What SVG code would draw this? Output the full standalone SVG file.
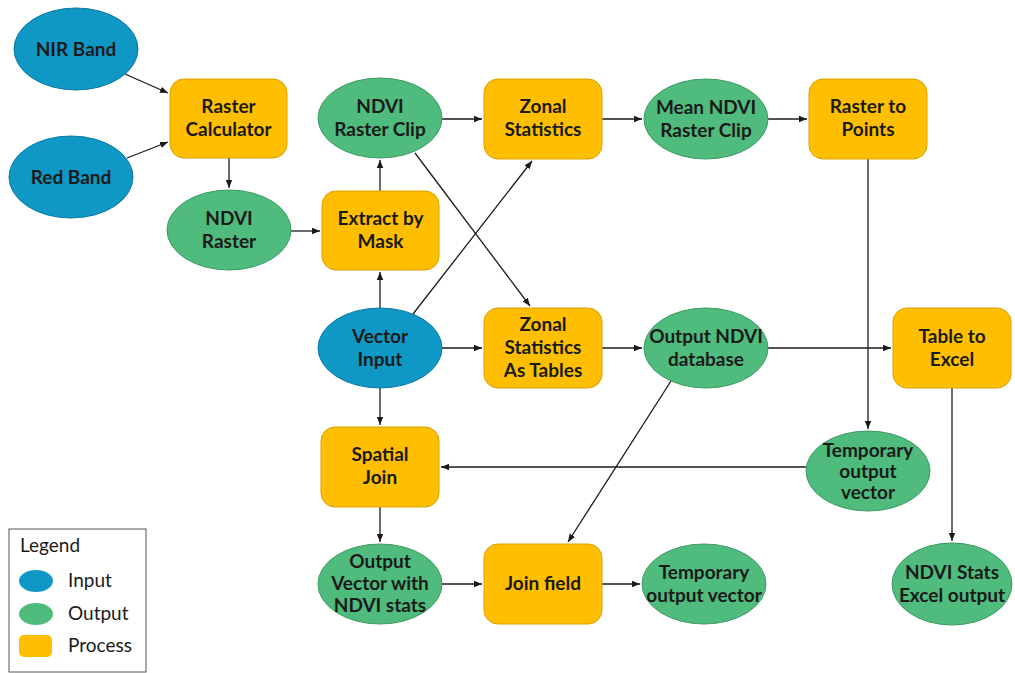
<svg xmlns="http://www.w3.org/2000/svg" width="1015" height="673" viewBox="0 0 1015 673">
<defs>
<marker id="ah" viewBox="0 0 10 10" refX="10" refY="5" markerWidth="8" markerHeight="8" markerUnits="userSpaceOnUse" orient="auto">
<path d="M0,1 L10,5 L0,9 Z" fill="#1a1a1a"/>
</marker>
<style>
.in{fill:#0f98c5;stroke:#0b7aa0;stroke-width:1}
.out{fill:#4fbb7c;stroke:#3c9a62;stroke-width:1}
.pr{fill:#ffbf00;stroke:#d9a000;stroke-width:1}
.t{font-family:Lato,"Open Sans","Liberation Sans",sans-serif;font-weight:bold;font-size:19px;fill:#1a1a1a;text-anchor:middle}
.lg{font-family:Lato,"Open Sans","Liberation Sans",sans-serif;font-size:19px;fill:#1a1a1a}
.c line{stroke:#1a1a1a;stroke-width:1.3;marker-end:url(#ah)}
</style>
</defs>
<rect width="1015" height="673" fill="#ffffff"/>
<g id="connectors" class="c">
<line x1="125" y1="74" x2="168" y2="93"/>
<line x1="127" y1="158" x2="168" y2="142"/>
<line x1="229" y1="158" x2="229" y2="188"/>
<line x1="291" y1="231" x2="320" y2="231"/>
<line x1="380" y1="191" x2="380" y2="160"/>
<line x1="442" y1="119" x2="482" y2="119"/>
<line x1="602" y1="119" x2="642" y2="119"/>
<line x1="768" y1="119" x2="807" y2="119"/>
<line x1="380" y1="308" x2="380" y2="272"/>
<line x1="413" y1="314" x2="532" y2="161"/>
<line x1="415" y1="153" x2="530" y2="306"/>
<line x1="442" y1="348" x2="482" y2="348"/>
<line x1="602" y1="348" x2="642" y2="348"/>
<line x1="768" y1="348" x2="891" y2="348"/>
<line x1="868" y1="159" x2="868" y2="429"/>
<line x1="806" y1="467" x2="441" y2="467"/>
<line x1="380" y1="388" x2="380" y2="425"/>
<line x1="380" y1="507" x2="380" y2="542"/>
<line x1="671" y1="381" x2="568" y2="542"/>
<line x1="442" y1="584" x2="482" y2="584"/>
<line x1="602" y1="584" x2="640" y2="584"/>
<line x1="952" y1="388" x2="952" y2="541"/>
</g>
<g id="nir"><ellipse class="in" cx="76" cy="49" rx="62" ry="41"/><text class="t" x="76" y="56">NIR Band</text></g>
<g id="red"><ellipse class="in" cx="71" cy="177" rx="62" ry="41"/><text class="t" x="71" y="184">Red Band</text></g>
<g id="rastercalc"><rect class="pr" x="170" y="79" width="117" height="79" rx="14"/><text class="t" x="228.5" y="113">Raster</text><text class="t" x="228.5" y="136">Calculator</text></g>
<g id="ndviraster"><ellipse class="out" cx="229" cy="230" rx="62" ry="40"/><text class="t" x="229" y="225">NDVI</text><text class="t" x="229" y="248">Raster</text></g>
<g id="clip"><ellipse class="out" cx="380" cy="118" rx="62" ry="40"/><text class="t" x="380" y="113">NDVI</text><text class="t" x="380" y="136">Raster Clip</text></g>
<g id="zonal"><rect class="pr" x="484" y="79" width="118" height="80" rx="14"/><text class="t" x="543" y="113">Zonal</text><text class="t" x="543" y="136">Statistics</text></g>
<g id="mean"><ellipse class="out" cx="706" cy="119" rx="62" ry="40"/><text class="t" x="706" y="114">Mean NDVI</text><text class="t" x="706" y="137">Raster Clip</text></g>
<g id="rtp"><rect class="pr" x="809" y="79" width="118" height="80" rx="14"/><text class="t" x="868" y="113">Raster to</text><text class="t" x="868" y="136">Points</text></g>
<g id="ebm"><rect class="pr" x="322" y="191" width="117" height="79" rx="14"/><text class="t" x="380.5" y="225">Extract by</text><text class="t" x="380.5" y="248">Mask</text></g>
<g id="vector"><ellipse class="in" cx="380" cy="348" rx="62" ry="40"/><text class="t" x="380" y="343">Vector</text><text class="t" x="380" y="366">Input</text></g>
<g id="zsat"><rect class="pr" x="484" y="308" width="118" height="80" rx="14"/><text class="t" x="543" y="331">Zonal</text><text class="t" x="543" y="354">Statistics</text><text class="t" x="543" y="377">As Tables</text></g>
<g id="ondb"><ellipse class="out" cx="706" cy="348" rx="62" ry="40"/><text class="t" x="706" y="343">Output NDVI</text><text class="t" x="706" y="366">database</text></g>
<g id="tte"><rect class="pr" x="893" y="308" width="118" height="80" rx="14"/><text class="t" x="952" y="343">Table to</text><text class="t" x="952" y="366">Excel</text></g>
<g id="sj"><rect class="pr" x="321" y="427" width="118" height="80" rx="14"/><text class="t" x="380" y="461">Spatial</text><text class="t" x="380" y="484">Join</text></g>
<g id="tov1"><ellipse class="out" cx="868" cy="471" rx="62" ry="40"/><text class="t" x="868" y="457">Temporary</text><text class="t" x="868" y="478">output</text><text class="t" x="868" y="499">vector</text></g>
<g id="ovw"><ellipse class="out" cx="380" cy="584" rx="62" ry="40"/><text class="t" x="380" y="568">Output</text><text class="t" x="380" y="590">Vector with</text><text class="t" x="380" y="612">NDVI stats</text></g>
<g id="jf"><rect class="pr" x="484" y="544" width="118" height="80" rx="14"/><text class="t" x="543" y="590">Join field</text></g>
<g id="tov2"><ellipse class="out" cx="704" cy="584" rx="62" ry="40"/><text class="t" x="704" y="579">Temporary</text><text class="t" x="704" y="602">output vector</text></g>
<g id="nse"><ellipse class="out" cx="952" cy="584" rx="60" ry="41"/><text class="t" x="952" y="579">NDVI Stats</text><text class="t" x="952" y="602">Excel output</text></g>
<g id="legend">
<rect x="9" y="529" width="137" height="143" fill="#ffffff" stroke="#555555" stroke-width="1"/>
<text class="lg" x="20" y="552">Legend</text>
<ellipse cx="36" cy="581" rx="17" ry="11" fill="#0f98c5"/>
<text class="lg" x="68" y="587">Input</text>
<ellipse cx="36" cy="614" rx="17" ry="11" fill="#4fbb7c"/>
<text class="lg" x="68" y="620">Output</text>
<rect x="19" y="635" width="33" height="22" rx="5" fill="#ffbf00"/>
<text class="lg" x="68" y="652">Process</text>
</g>
</svg>
